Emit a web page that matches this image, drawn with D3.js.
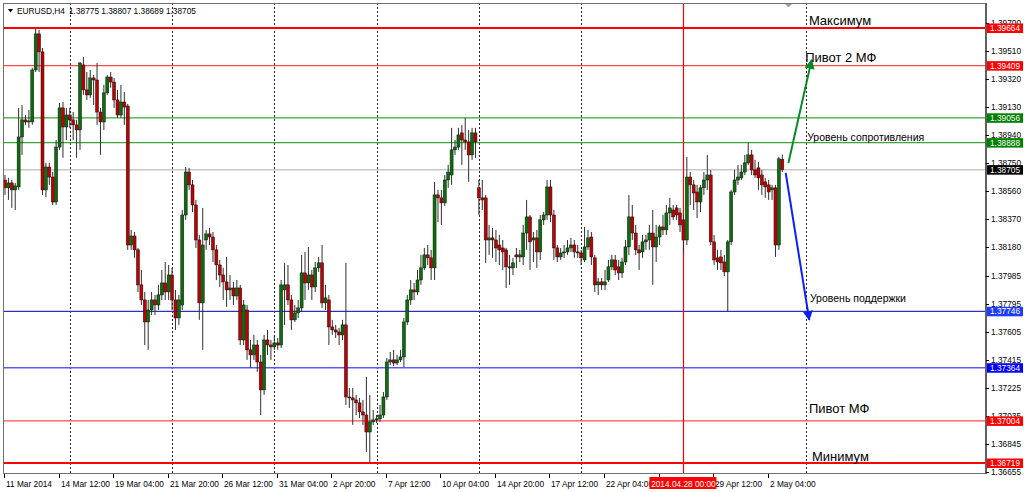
<!DOCTYPE html>
<html><head><meta charset="utf-8">
<script src="https://cdn.jsdelivr.net/npm/d3@7"></script>
<style>body{margin:0;background:#fff;}svg{display:block;font-family:"Liberation Sans",Arial,sans-serif;}</style>
</head><body><svg id="c" width="1024" height="492"></svg>
<script>
const symbol = "EURUSD,H4";
const lastOHLC = [1.38775, 1.38807, 1.38689, 1.38705];
const opens = [1.38635,1.38582,1.38615,1.38568,1.38588,1.38926,1.39042,1.39028,1.39028,1.39380,1.39624,1.39502,1.38568,1.38723,1.38655,1.38486,1.38858,1.39123,1.38994,1.39075,1.39042,1.39008,1.38974,1.39414,1.39245,1.39211,1.39326,1.39312,1.39095,1.39028,1.39225,1.39332,1.39298,1.39177,1.39075,1.39163,1.39136,1.38195,1.38256,1.38162,1.37925,1.37823,1.37674,1.37755,1.37823,1.37789,1.37857,1.37938,1.37877,1.37992,1.37823,1.37701,1.37789,1.38398,1.38689,1.38602,1.38466,1.38229,1.37803,1.38229,1.38270,1.38249,1.38162,1.38060,1.37992,1.37945,1.37891,1.37904,1.37850,1.37904,1.37552,1.37755,1.37485,1.37451,1.37518,1.37403,1.37214,1.37552,1.37518,1.37505,1.37532,1.37518,1.37891,1.37925,1.37823,1.37688,1.37735,1.37769,1.38006,1.37938,1.37992,1.37911,1.38040,1.38074,1.37803,1.37823,1.37640,1.37620,1.37606,1.37586,1.37654,1.37166,1.37160,1.37146,1.37126,1.37065,1.37044,1.36929,1.36997,1.37011,1.37018,1.37044,1.37166,1.37403,1.37417,1.37396,1.37417,1.37437,1.37674,1.37823,1.37891,1.37877,1.37958,1.38040,1.38128,1.38108,1.38040,1.38534,1.38514,1.38480,1.38635,1.38669,1.38839,1.38858,1.38954,1.38906,1.38893,1.38805,1.38954,1.38582,1.38514,1.38514,1.38229,1.38243,1.38229,1.38195,1.38175,1.38162,1.38047,1.38040,1.38128,1.38114,1.38114,1.38276,1.38385,1.38229,1.38243,1.38148,1.38365,1.38398,1.38588,1.38398,1.38175,1.38114,1.38141,1.38148,1.38175,1.38195,1.38148,1.38141,1.38094,1.38182,1.38249,1.38108,1.37925,1.37945,1.37925,1.37958,1.38047,1.38094,1.38047,1.38006,1.38080,1.38182,1.38385,1.38276,1.38162,1.38148,1.38216,1.38229,1.38276,1.38182,1.38249,1.38317,1.38297,1.38412,1.38432,1.38446,1.38412,1.38365,1.38229,1.38655,1.38602,1.38554,1.38486,1.38582,1.38635,1.38669,1.38216,1.38108,1.38114,1.38080,1.38013,1.38216,1.38554,1.38635,1.38649,1.38689,1.38751,1.38805,1.38703,1.38717,1.38669,1.38622,1.38602,1.38568,1.38582,1.38195,1.38775];
const highs = [1.38669,1.38649,1.38635,1.38615,1.39123,1.39143,1.39075,1.39109,1.39394,1.39664,1.39651,1.39529,1.38751,1.38751,1.38689,1.38906,1.39157,1.39163,1.39123,1.39123,1.39095,1.39042,1.39434,1.39468,1.39366,1.39380,1.39346,1.39427,1.39123,1.39279,1.39346,1.39366,1.39326,1.39245,1.39279,1.39231,1.39150,1.38297,1.38283,1.38175,1.38026,1.37877,1.37823,1.37877,1.37857,1.37925,1.38026,1.38080,1.38060,1.38040,1.37891,1.37857,1.38432,1.38723,1.38717,1.38635,1.38500,1.38263,1.38446,1.38297,1.38310,1.38283,1.38195,1.38094,1.38040,1.38114,1.37992,1.37945,1.37958,1.37925,1.37823,1.37789,1.37552,1.37586,1.37552,1.37451,1.37586,1.37620,1.37552,1.37586,1.37566,1.37958,1.38074,1.38060,1.37857,1.37789,1.37823,1.38128,1.38148,1.38182,1.38026,1.38080,1.38114,1.38195,1.37925,1.37857,1.37688,1.37654,1.37633,1.37688,1.38074,1.37227,1.37227,1.37180,1.37160,1.37146,1.37302,1.37180,1.37078,1.37044,1.37112,1.37200,1.37430,1.37471,1.37485,1.37451,1.37485,1.37701,1.37857,1.37958,1.37938,1.38026,1.38128,1.38175,1.38195,1.38162,1.38622,1.38568,1.38568,1.38669,1.38737,1.38988,1.38906,1.38988,1.39008,1.39055,1.38974,1.38988,1.38988,1.38635,1.38635,1.38534,1.38331,1.38310,1.38297,1.38263,1.38229,1.38175,1.38128,1.38108,1.38175,1.38162,1.38331,1.38500,1.38398,1.38283,1.38297,1.38398,1.38418,1.38635,1.38635,1.38432,1.38195,1.38175,1.38195,1.38229,1.38243,1.38229,1.38195,1.38162,1.38317,1.38297,1.38283,1.38128,1.37972,1.37972,1.38026,1.38094,1.38128,1.38128,1.38094,1.38108,1.38229,1.38534,1.38466,1.38331,1.38195,1.38263,1.38263,1.38331,1.38432,1.38331,1.38331,1.38398,1.38466,1.38514,1.38466,1.38466,1.38446,1.38398,1.38791,1.38689,1.38635,1.38602,1.38602,1.38689,1.38805,1.38703,1.38263,1.38162,1.38162,1.38128,1.38229,1.38568,1.38703,1.38737,1.38737,1.38805,1.38888,1.38839,1.38771,1.38757,1.38703,1.38649,1.38635,1.38602,1.38602,1.38791,1.38807];
const lows = [1.38534,1.38500,1.38446,1.38432,1.38568,1.38805,1.39008,1.38988,1.39008,1.39366,1.39366,1.38534,1.38520,1.38602,1.38466,1.38466,1.38839,1.38785,1.38906,1.38988,1.38906,1.38785,1.38839,1.39211,1.39177,1.39191,1.39143,1.39008,1.38805,1.38974,1.39211,1.39259,1.39123,1.39055,1.39055,1.39008,1.38162,1.38162,1.38108,1.37877,1.37789,1.37518,1.37485,1.37721,1.37721,1.37755,1.37823,1.37823,1.37823,1.37755,1.37620,1.37654,1.37755,1.38365,1.38568,1.38418,1.38175,1.37688,1.37485,1.38162,1.38195,1.38080,1.37958,1.37911,1.37823,1.37776,1.37823,1.37789,1.37823,1.37518,1.37518,1.37417,1.37363,1.37417,1.37336,1.37044,1.37180,1.37451,1.37417,1.37485,1.37485,1.37498,1.37654,1.37789,1.37620,1.37674,1.37701,1.37742,1.37823,1.37891,1.37823,1.37877,1.38013,1.37769,1.37755,1.37518,1.37586,1.37566,1.37518,1.37552,1.37112,1.37092,1.36977,1.37044,1.37024,1.36977,1.36794,1.36719,1.36977,1.36990,1.36997,1.37024,1.37146,1.37383,1.37376,1.37383,1.37403,1.37369,1.37654,1.37789,1.37823,1.37857,1.37925,1.38026,1.38060,1.37958,1.37958,1.38351,1.38331,1.38459,1.38582,1.38602,1.38805,1.38839,1.38737,1.38839,1.38622,1.38771,1.38785,1.38398,1.38432,1.38074,1.38128,1.38108,1.38080,1.38060,1.38026,1.37904,1.37925,1.37992,1.38040,1.38080,1.38060,1.38162,1.38026,1.38080,1.38040,1.38094,1.38331,1.38365,1.38351,1.38094,1.38080,1.38094,1.38108,1.38128,1.38148,1.38108,1.38108,1.38060,1.38080,1.38162,1.38060,1.37877,1.37857,1.37891,1.37891,1.37945,1.38026,1.37992,1.37958,1.37972,1.38060,1.38128,1.38229,1.38128,1.38026,1.38108,1.38162,1.38162,1.37925,1.38080,1.38195,1.38263,1.38263,1.38331,1.38365,1.38365,1.38283,1.38141,1.38195,1.38466,1.38432,1.38378,1.38418,1.38534,1.38568,1.38195,1.38060,1.38026,1.38026,1.37985,1.37742,1.38195,1.38534,1.38602,1.38635,1.38669,1.38737,1.38669,1.38649,1.38568,1.38534,1.38514,1.38500,1.38500,1.38114,1.38162,1.38689];
const closes = [1.38582,1.38615,1.38568,1.38595,1.38926,1.39042,1.39028,1.39035,1.39380,1.39624,1.39502,1.38568,1.38723,1.38655,1.38486,1.38858,1.39123,1.38994,1.39075,1.39042,1.39008,1.38974,1.39427,1.39245,1.39211,1.39326,1.39312,1.39095,1.39028,1.39225,1.39332,1.39298,1.39177,1.39075,1.39163,1.39129,1.38195,1.38256,1.38162,1.37925,1.37823,1.37674,1.37755,1.37823,1.37789,1.37857,1.37938,1.37877,1.37992,1.37823,1.37701,1.37823,1.38398,1.38689,1.38602,1.38466,1.38229,1.37803,1.38195,1.38270,1.38249,1.38162,1.38060,1.37992,1.37945,1.37891,1.37904,1.37850,1.37904,1.37552,1.37789,1.37485,1.37451,1.37518,1.37403,1.37214,1.37552,1.37518,1.37505,1.37532,1.37518,1.37925,1.37925,1.37823,1.37688,1.37735,1.37769,1.38006,1.37938,1.37992,1.37911,1.38040,1.38074,1.37803,1.37837,1.37640,1.37620,1.37606,1.37586,1.37654,1.37166,1.37160,1.37146,1.37126,1.37065,1.37044,1.36929,1.36997,1.37011,1.37018,1.37044,1.37166,1.37403,1.37417,1.37396,1.37417,1.37437,1.37674,1.37823,1.37891,1.37877,1.37958,1.38040,1.38128,1.38108,1.38040,1.38534,1.38514,1.38480,1.38635,1.38689,1.38839,1.38858,1.38940,1.38906,1.38893,1.38805,1.38954,1.38893,1.38514,1.38500,1.38229,1.38243,1.38229,1.38175,1.38162,1.38148,1.38047,1.38040,1.38074,1.38114,1.38128,1.38276,1.38385,1.38216,1.38243,1.38148,1.38365,1.38398,1.38588,1.38398,1.38175,1.38114,1.38141,1.38148,1.38175,1.38195,1.38148,1.38141,1.38108,1.38182,1.38243,1.38114,1.37925,1.37945,1.37925,1.37945,1.38047,1.38094,1.38026,1.38006,1.38080,1.38182,1.38385,1.38276,1.38162,1.38141,1.38216,1.38229,1.38276,1.38182,1.38249,1.38317,1.38297,1.38412,1.38446,1.38385,1.38398,1.38331,1.38229,1.38655,1.38602,1.38547,1.38486,1.38582,1.38635,1.38669,1.38216,1.38094,1.38080,1.38074,1.38013,1.38216,1.38554,1.38635,1.38655,1.38689,1.38751,1.38805,1.38703,1.38669,1.38649,1.38602,1.38588,1.38554,1.38582,1.38195,1.38778,1.38705];

const xLabelBars = [0,16,32,48,64,80,96,112,128,144,160,176,192,208,224];
const xLabelTexts = ["11 Mar 2014","14 Mar 12:00","19 Mar 04:00","21 Mar 20:00","26 Mar 12:00","31 Mar 04:00","2 Apr 20:00","7 Apr 12:00","10 Apr 04:00","14 Apr 20:00","17 Apr 12:00","22 Apr 04:00","24 Apr 20:00","29 Apr 12:00","2 May 04:00"];
const weekSeparators = [19,49,79,109,139,169,235];
const markedBar = 199;
const markedBarLabel = "2014.04.28 00:00";
const yTickValues = [1.39700,1.39510,1.39320,1.39130,1.38940,1.38750,1.38560,1.38370,1.38180,1.37985,1.37795,1.37605,1.37415,1.37225,1.37035,1.36845,1.36655];
const levelValues = [1.39664,1.39409,1.39056,1.38888,1.37746,1.37364,1.37004,1.36719];
const currentPrice = 1.38705;
const noteTexts = ["Максимум","Пивот 2 МФ","Уровень сопротивления","Уровень поддержки","Пивот МФ","Минимум"];
const noteBars = [235.8,234.7,235.3,236.1,235.8,236.7];
const notePrices = [1.39685,1.39434,1.38899,1.37809,1.37058,1.36733];
const arrowFromBars = [229.8,229.0];
const arrowFromPrices = [1.38751,1.38683];
const arrowToBars = [236.6,235.9];
const arrowToPrices = [1.39448,1.37688];

// styles
const levelStyle = [
  {c:"#ff0000",w:2,box:"#ff0000"},
  {c:"#ff4a4a",w:1.2,box:"#ff0000"},
  {c:"#3aa53a",w:1.2,box:"#008000"},
  {c:"#3aa53a",w:1.2,box:"#008000"},
  {c:"#3030b8",w:1.2,box:"#1e3cff"},
  {c:"#5a5aff",w:1.5,box:"#0000ff"},
  {c:"#ff5050",w:1.2,box:"#ff0000"},
  {c:"#ff0000",w:2,box:"#ff0000"}
];
const noteSizes = [13,13,10.5,10.5,13,13];
const arrowColors = ["#008a20","#0a1eff"];

const L=3,R=986,T=3,B=474;
const svg = d3.select("#c");
const x = d3.scaleLinear().domain([0,228]).range([5,782.3]);
const y = d3.scaleLinear().domain([1.36719,1.39664]).range([463,28]);

svg.append("rect").attr("width",1024).attr("height",492).attr("fill","#fff");
svg.append("defs").append("clipPath").attr("id","pc").append("rect")
  .attr("x",L).attr("y",T).attr("width",R-L).attr("height",B-T);
const g = svg.append("g").attr("clip-path","url(#pc)");

// week separators
g.selectAll(".sep").data(weekSeparators).join("line")
  .attr("x1",d=>Math.round(x(d))+0.5).attr("x2",d=>Math.round(x(d))+0.5)
  .attr("y1",T).attr("y2",B).attr("stroke","#222").attr("stroke-dasharray","2,2").attr("stroke-width",1);

// current price line
g.append("line").attr("x1",L).attr("x2",R).attr("y1",y(currentPrice)).attr("y2",y(currentPrice))
  .attr("stroke","#c8c8c8").attr("stroke-width",1.5);
// levels
g.selectAll(".lvl").data(levelValues).join("line")
  .attr("x1",L).attr("x2",R).attr("y1",d=>y(d)).attr("y2",d=>y(d))
  .attr("stroke",(d,i)=>levelStyle[i].c).attr("stroke-width",(d,i)=>levelStyle[i].w);

// marked bar vertical
g.append("line").attr("x1",Math.round(x(markedBar))+0.5).attr("x2",Math.round(x(markedBar))+0.5)
  .attr("y1",T).attr("y2",B).attr("stroke","#ff0000").attr("stroke-width",1.2);

// candles
const bars = d3.range(closes.length).map(i=>({i,o:opens[i],h:highs[i],l:lows[i],c:closes[i]}));
const cg = g.append("g");
cg.selectAll(".wick").data(bars).join("line")
  .attr("x1",d=>x(d.i)).attr("x2",d=>x(d.i))
  .attr("y1",d=>y(d.h)).attr("y2",d=>y(d.l))
  .attr("stroke","#303030").attr("stroke-width",1);
cg.selectAll(".body").data(bars).join("rect")
  .attr("x",d=>x(d.i)-1.5).attr("width",3)
  .attr("y",d=>Math.min(y(d.o),y(d.c)))
  .attr("height",d=>Math.max(1,Math.abs(y(d.o)-y(d.c))))
  .attr("fill",d=>d.c>=d.o?"#0b6e0b":"#c00000")
  .attr("stroke","#111").attr("stroke-width",0.5);

// arrows
const defs = svg.select("defs");
arrowColors.forEach((col,i)=>{
  defs.append("marker").attr("id","ah"+i).attr("viewBox","0 0 10 10").attr("refX",9).attr("refY",5)
    .attr("markerWidth",5).attr("markerHeight",5).attr("orient","auto")
    .append("path").attr("d","M0,0L10,5L0,10z").attr("fill",col);
});
g.selectAll(".arr").data(arrowColors).join("line")
  .attr("x1",(d,i)=>x(arrowFromBars[i])).attr("y1",(d,i)=>y(arrowFromPrices[i]))
  .attr("x2",(d,i)=>x(arrowToBars[i])).attr("y2",(d,i)=>y(arrowToPrices[i]))
  .attr("stroke",d=>d).attr("stroke-width",2).attr("marker-end",(d,i)=>"url(#ah"+i+")");

// notes
g.selectAll(".note").data(noteTexts).join("text")
  .attr("x",(d,i)=>x(noteBars[i])).attr("y",(d,i)=>y(notePrices[i]))
  .attr("font-size",(d,i)=>noteSizes[i]).attr("fill","#000").text(d=>d);

// header
svg.append("path").attr("d","M8,9L13,9L10.5,12.5z").attr("fill","#000");
svg.append("text").attr("x",17).attr("y",14).attr("font-size",8.3).attr("fill","#000").text(symbol);
svg.append("text").attr("x",69).attr("y",14).attr("font-size",8.3).attr("fill","#000")
  .text(lastOHLC.map(v=>v.toFixed(5)).join(" "));
// chart shift marker
svg.append("path").attr("d","M785,4L792,4L788.5,7.5z").attr("fill","#a0a0a0");

// frame
svg.append("rect").attr("x",L+0.5).attr("y",T+0.5).attr("width",R-L-1).attr("height",B-T-1)
  .attr("fill","none").attr("stroke","#707070").attr("stroke-width",1);
svg.append("line").attr("x1",R).attr("x2",R).attr("y1",T).attr("y2",B).attr("stroke","#606060").attr("stroke-width",2);

// y axis
const ya = svg.append("g");
ya.selectAll("line").data(yTickValues).join("line")
  .attr("x1",R).attr("x2",R+3).attr("y1",d=>Math.round(y(d))+0.5).attr("y2",d=>Math.round(y(d))+0.5)
  .attr("stroke","#000");
ya.selectAll("text").data(yTickValues).join("text")
  .attr("x",991).attr("y",d=>y(d)+3).attr("font-size",8.3).attr("fill","#000")
  .text(d=>d.toFixed(5));
// boxes
const boxVals = levelValues.concat([currentPrice]);
const boxCols = levelStyle.map(s=>s.box).concat(["#000"]);
const bg = svg.append("g");
bg.selectAll("rect").data(boxVals).join("rect")
  .attr("x",987).attr("width",36).attr("y",d=>y(d)-4.5).attr("height",9.5)
  .attr("fill",(d,i)=>boxCols[i]);
bg.selectAll("text").data(boxVals).join("text")
  .attr("x",990).attr("y",d=>y(d)+3).attr("font-size",8.3).attr("fill","#fff")
  .text(d=>d.toFixed(5));

// x axis
const mx = x(markedBar);
const boxL = mx-34, boxR = mx+33;
const xa = svg.append("g");
xa.selectAll("line").data(xLabelBars).join("line")
  .attr("x1",d=>Math.round(x(d))-0.5).attr("x2",d=>Math.round(x(d))-0.5)
  .attr("y1",B).attr("y2",B+4).attr("stroke","#000");
const shownLabels = xLabelBars.map((b,i)=>({b,t:xLabelTexts[i]}))
  .filter(d=>!(x(d.b)+1>=boxL && x(d.b)+52<=boxR));
xa.selectAll("text").data(shownLabels).join("text")
  .attr("x",d=>Math.round(x(d.b))+1).attr("y",487).attr("font-size",8.3).attr("fill","#000")
  .text(d=>d.t);
svg.append("rect").attr("x",boxL).attr("y",477).attr("width",boxR-boxL).attr("height",12).attr("fill","#ff0000");
svg.append("text").attr("x",mx).attr("y",486.5).attr("text-anchor","middle").attr("font-size",8.3)
  .attr("fill","#fff").text(markedBarLabel);
</script></body></html>
